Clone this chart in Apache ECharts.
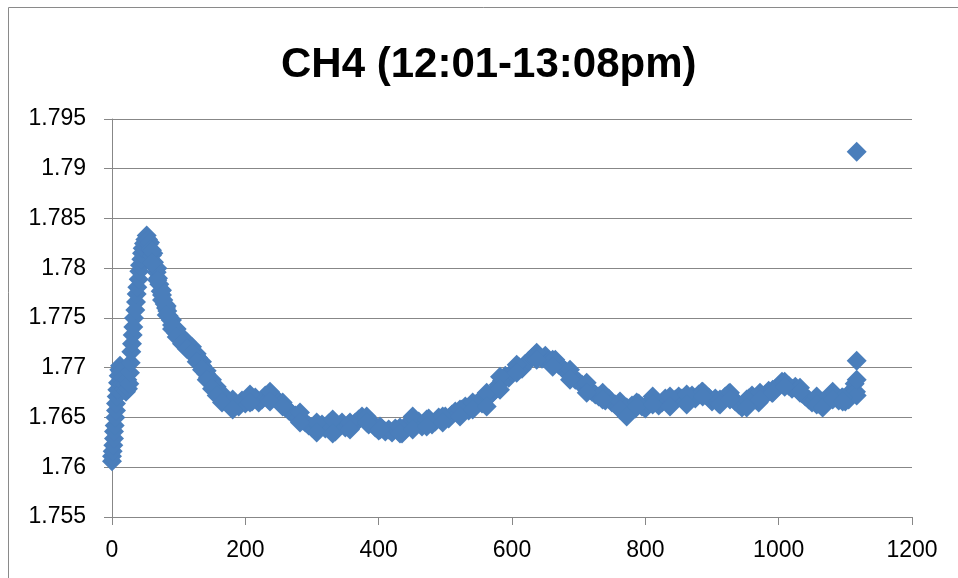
<!DOCTYPE html>
<html>
<head>
<meta charset="utf-8">
<script src="https://cdn.jsdelivr.net/npm/echarts@6/dist/echarts.min.js"></script>
<style>
  html, body { margin: 0; padding: 0; background: #fff; }
  #chart { width: 958px; height: 578px; }
</style>
</head>
<body>
<div id="chart"></div>
<script>
// ---- data ----
const chartTitle = "CH4 (12:01-13:08pm)";
const xTicks = ["0", "200", "400", "600", "800", "1000", "1200"];
const yTicks = ["1.755", "1.76", "1.765", "1.77", "1.775", "1.78", "1.785", "1.79", "1.795"];

// centre of the band of markers
const sampleX = [
  0, 0, 1, 2, 3, 3, 4, 5, 6, 6, 7, 8, 9, 10, 11, 12, 13, 14, 15, 17, 18, 20, 21, 23, 24, 26, 27, 28, 29, 30,
  31, 32, 33, 35, 36, 37, 38, 40, 41, 42, 44, 45, 46, 48, 50, 52, 54, 55, 57, 58, 60, 62, 63, 65, 67, 69, 71, 73, 75, 77,
  79, 81, 83, 85, 88, 90, 93, 96, 99, 103, 106, 110, 114, 118, 122, 126, 129, 132, 135, 138, 141, 144, 147, 151, 155, 159, 162, 166, 170, 175,
  180, 185, 190, 195, 200, 205, 210, 215, 220, 225, 230, 235, 240, 245, 250, 255, 260, 265, 270, 275, 280, 285, 290, 295, 300, 305, 310, 315, 320, 325,
  330, 335, 340, 345, 350, 355, 360, 365, 370, 375, 380, 385, 390, 395, 400, 405, 410, 415, 420, 425, 430, 435, 440, 445, 450, 455, 460, 465, 470, 475,
  480, 485, 490, 495, 500, 505, 510, 515, 520, 525, 530, 535, 540, 545, 550, 555, 560, 565, 570, 575, 580, 585, 590, 595, 600, 605, 610, 615, 620, 625,
  630, 635, 640, 645, 650, 655, 660, 665, 670, 675, 680, 685, 690, 695, 700, 705, 710, 715, 720, 725, 730, 735, 740, 745, 750, 755, 760, 765, 770, 775,
  780, 785, 790, 795, 800, 805, 810, 815, 820, 825, 830, 835, 840, 845, 850, 855, 860, 865, 870, 875, 880, 885, 890, 895, 900, 905, 910, 915, 920, 925,
  930, 935, 940, 945, 950, 955, 960, 965, 970, 975, 980, 985, 990, 995, 1000, 1005, 1010, 1015, 1020, 1025, 1030, 1035, 1040, 1045, 1050, 1055, 1060, 1065, 1070, 1075,
  1080, 1085, 1090, 1095, 1100, 1105, 1108, 1111, 1114, 1116, 1117, 1117, 1117, 1117
];

const ch4Values = [
  1.7606, 1.7611, 1.7616, 1.7622, 1.7629, 1.7636, 1.7642, 1.7650, 1.7657, 1.7664, 1.7671, 1.7678, 1.7685, 1.7692, 1.7698, 1.7702, 1.7696, 1.7688, 1.7683, 1.7690, 1.7678, 1.7683, 1.7676, 1.7688, 1.7679, 1.7684, 1.7695, 1.7705, 1.7716, 1.7724,
  1.7733, 1.7741, 1.7750, 1.7758, 1.7766, 1.7774, 1.7781, 1.7789, 1.7797, 1.7803, 1.7809, 1.7815, 1.7820, 1.7825, 1.7829, 1.7833, 1.7829, 1.7824, 1.7826, 1.7819, 1.7813, 1.7815, 1.7806, 1.7801, 1.7796, 1.7790, 1.7784, 1.7777, 1.7773, 1.7768,
  1.7764, 1.7760, 1.7757, 1.7752, 1.7748, 1.7743, 1.7739, 1.7735, 1.7731, 1.7728, 1.7724, 1.7722, 1.7720, 1.7718, 1.7715, 1.7712, 1.7710, 1.7707, 1.7702, 1.7698, 1.7694, 1.7690, 1.7687, 1.7683, 1.7679, 1.7676, 1.7673, 1.7669, 1.7667, 1.7665,
  1.7662, 1.7664, 1.7661, 1.7667, 1.7664, 1.7669, 1.7666, 1.7670, 1.7665, 1.7668, 1.7672, 1.7668, 1.7673, 1.7669, 1.7666, 1.7664, 1.7660, 1.7657, 1.7654, 1.7652, 1.7650, 1.7647, 1.7645, 1.7642, 1.7640, 1.7638, 1.7641, 1.7643, 1.7639, 1.7644,
  1.7640, 1.7636, 1.7641, 1.7645, 1.7640, 1.7643, 1.7641, 1.7645, 1.7648, 1.7651, 1.7647, 1.7643, 1.7645, 1.7640, 1.7637, 1.7639, 1.7636, 1.7638, 1.7635, 1.7639, 1.7636, 1.7634, 1.7638, 1.7644, 1.7648, 1.7643, 1.7646, 1.7641, 1.7645, 1.7649,
  1.7643, 1.7646, 1.7650, 1.7647, 1.7651, 1.7649, 1.7653, 1.7656, 1.7654, 1.7658, 1.7661, 1.7657, 1.7660, 1.7663, 1.7666, 1.7664, 1.7668, 1.7671, 1.7674, 1.7678, 1.7683, 1.7687, 1.7692, 1.7690, 1.7695, 1.7698, 1.7701, 1.7699, 1.7704, 1.7707,
  1.7710, 1.7713, 1.7711, 1.7709, 1.7712, 1.7707, 1.7705, 1.7708, 1.7703, 1.7700, 1.7697, 1.7694, 1.7691, 1.7688, 1.7686, 1.7683, 1.7680, 1.7678, 1.7676, 1.7673, 1.7671, 1.7669, 1.7667, 1.7669, 1.7665, 1.7663, 1.7661, 1.7658, 1.7654, 1.7657,
  1.7662, 1.7659, 1.7664, 1.7661, 1.7659, 1.7664, 1.7668, 1.7666, 1.7662, 1.7665, 1.7669, 1.7667, 1.7664, 1.7668, 1.7671, 1.7669, 1.7666, 1.7670, 1.7672, 1.7669, 1.7673, 1.7676, 1.7673, 1.7670, 1.7666, 1.7669, 1.7664, 1.7667, 1.7671, 1.7674,
  1.7670, 1.7666, 1.7663, 1.7660, 1.7665, 1.7669, 1.7672, 1.7668, 1.7665, 1.7669, 1.7673, 1.7677, 1.7675, 1.7679, 1.7682, 1.7686, 1.7684, 1.7682, 1.7679, 1.7681, 1.7677, 1.7674, 1.7671, 1.7668, 1.7665, 1.7668, 1.7664, 1.7661, 1.7666, 1.7670,
  1.7674, 1.7671, 1.7667, 1.7670, 1.7666, 1.7668, 1.7673, 1.7678, 1.7684, 1.7676, 1.7672, 1.7688, 1.7707, 1.7917
];

// upper and lower edge readings of the marker band
const edgeX = [
  60, 68, 75, 82, 90, 97, 105, 112, 120, 127, 135, 142, 150, 157, 165, 181, 207, 237, 256, 282,
  307, 331, 357, 382, 402, 432, 451, 472, 496, 522, 541, 562, 582, 607, 637, 661, 687, 712, 736, 762,
  772, 787, 811, 837, 862, 886, 912, 927, 952, 972, 991, 1009, 1032, 1057, 1066, 1081, 1096
];
const edgeUpper = [
  1.7818, 1.7800, 1.7778, 1.7762, 1.7748, 1.7739, 1.7731, 1.7726, 1.7721, 1.7714, 1.7706, 1.7697, 1.7688, 1.7681, 1.7674, 1.7668, 1.7673, 1.7676, 1.7665, 1.7655,
  1.7645, 1.7648, 1.7645, 1.7651, 1.7641, 1.7640, 1.7651, 1.7648, 1.7651, 1.7658, 1.7665, 1.7675, 1.7691, 1.7703, 1.7715, 1.7708, 1.7698, 1.7685, 1.7675, 1.7666,
  1.7660, 1.7665, 1.7671, 1.7671, 1.7673, 1.7676, 1.7668, 1.7675, 1.7668, 1.7675, 1.7678, 1.7686, 1.7680, 1.7671, 1.7666, 1.7676, 1.7670
];
const edgeLower = [
  1.7806, 1.7788, 1.7768, 1.7753, 1.7739, 1.7731, 1.7724, 1.7719, 1.7714, 1.7706, 1.7698, 1.7688, 1.7679, 1.7672, 1.7665, 1.7658, 1.7665, 1.7666, 1.7661, 1.7645,
  1.7635, 1.7634, 1.7638, 1.7645, 1.7638, 1.7634, 1.7638, 1.7641, 1.7645, 1.7651, 1.7658, 1.7661, 1.7678, 1.7695, 1.7708, 1.7701, 1.7688, 1.7675, 1.7668, 1.7658,
  1.7651, 1.7661, 1.7663, 1.7661, 1.7663, 1.7671, 1.7663, 1.7668, 1.7660, 1.7668, 1.7675, 1.7681, 1.7675, 1.7663, 1.7660, 1.7668, 1.7666
];

// ---- chart ----
const points = sampleX.map((x, i) => [x, ch4Values[i]])
  .concat(edgeX.map((x, i) => [x, edgeUpper[i]]))
  .concat(edgeX.map((x, i) => [x, edgeLower[i]]));
const xNum = xTicks.map(Number);
const yNum = yTicks.map(Number);
const gridColor = '#878787';
const labelFont = 'Liberation Sans';

function nearestLabel(list, nums, v) {
  let best = 0;
  nums.forEach((t, i) => { if (Math.abs(t - v) < Math.abs(nums[best] - v)) best = i; });
  return list[best];
}

const chart = echarts.init(document.getElementById('chart'), null, { renderer: 'canvas' });
chart.setOption({
  animation: false,
  backgroundColor: '#ffffff',
  title: {
    text: chartTitle,
    left: 276,
    top: 39,
    textStyle: { fontFamily: labelFont, fontWeight: 'bold', fontSize: 42, color: '#000' }
  },
  graphic: [
    { type: 'line', shape: { x1: 8.5, y1: 7.5, x2: 958, y2: 7.5 }, style: { stroke: '#8a8a8a', lineWidth: 1 } },
    { type: 'line', shape: { x1: 8.5, y1: 7.5, x2: 8.5, y2: 578 }, style: { stroke: '#8a8a8a', lineWidth: 1 } }
  ],
  grid: { left: 112, right: 46, top: 119, bottom: 61, containLabel: false },
  xAxis: {
    type: 'value',
    min: xNum[0],
    max: xNum[xNum.length - 1],
    interval: xNum[1] - xNum[0],
    axisLine: { show: true, onZero: false, lineStyle: { color: gridColor, width: 1 } },
    axisTick: { show: true, inside: false, length: 8, lineStyle: { color: gridColor } },
    splitLine: { show: false },
    axisLabel: {
      margin: 22, color: '#000', fontFamily: labelFont, fontSize: 23,
      formatter: (v) => nearestLabel(xTicks, xNum, v)
    }
  },
  yAxis: {
    type: 'value',
    min: yNum[0],
    max: yNum[yNum.length - 1],
    interval: 0.005,
    axisLine: { show: true, lineStyle: { color: gridColor, width: 1 } },
    axisTick: { show: true, inside: false, length: 8, lineStyle: { color: gridColor } },
    splitLine: { show: true, lineStyle: { color: gridColor, width: 1 } },
    axisLabel: {
      margin: 26, color: '#000', fontFamily: labelFont, fontSize: 23,
      formatter: (v) => nearestLabel(yTicks, yNum, v)
    }
  },
  series: [{
    type: 'scatter',
    data: points,
    symbol: 'diamond',
    symbolSize: 20,
    itemStyle: { color: '#4a7ebb', opacity: 1 }
  }]
});
</script>
</body>
</html>
